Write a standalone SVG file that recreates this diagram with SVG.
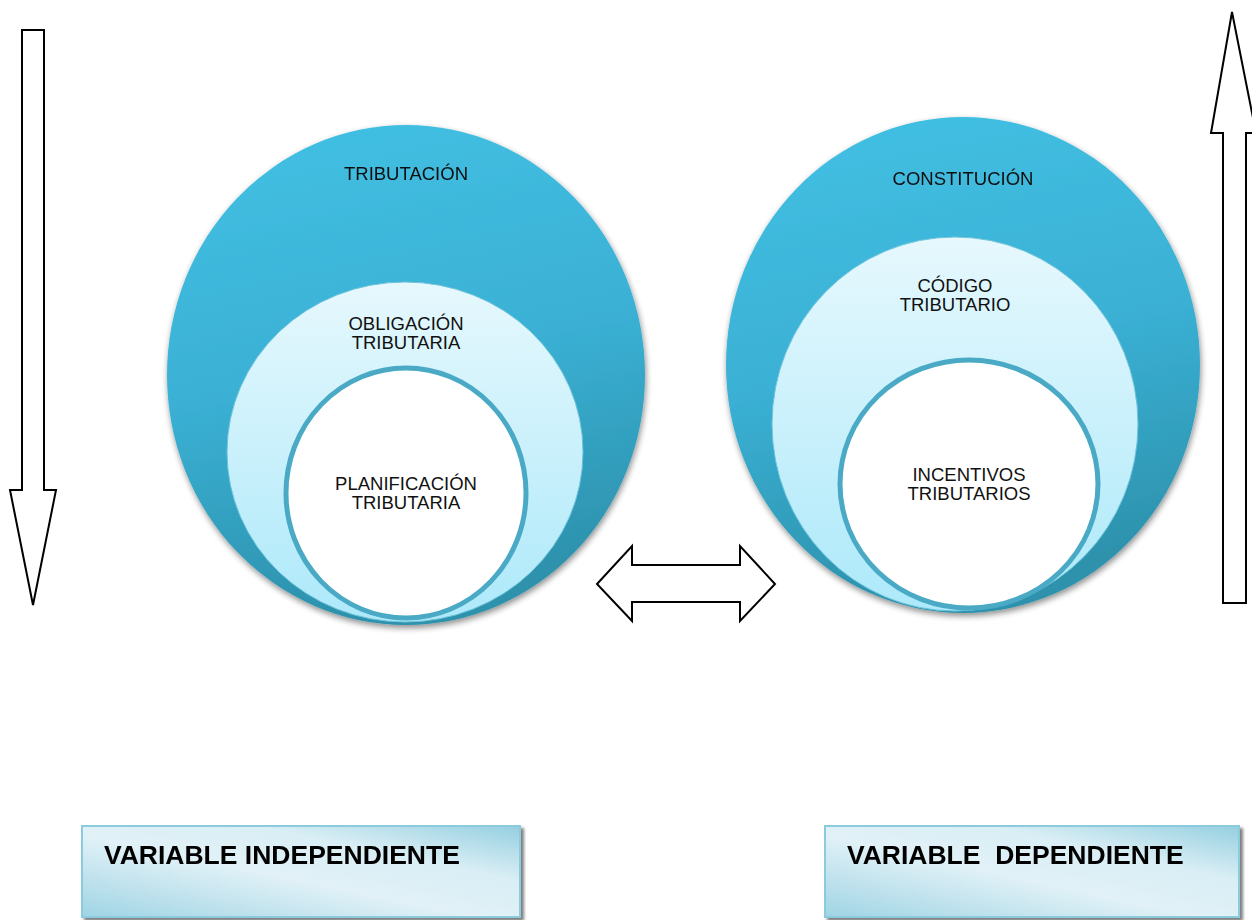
<svg xmlns="http://www.w3.org/2000/svg" width="1252" height="920" viewBox="0 0 1252 920">
  <defs>
    <linearGradient id="gOuter" x1="0" y1="0" x2="0.2" y2="1">
      <stop offset="0" stop-color="#42c1e4"/>
      <stop offset="0.55" stop-color="#3ab0d4"/>
      <stop offset="1" stop-color="#2d92ad"/>
    </linearGradient>
    <linearGradient id="gMiddle" x1="0" y1="0" x2="0" y2="1">
      <stop offset="0" stop-color="#e6f8fd"/>
      <stop offset="1" stop-color="#ade9fa"/>
    </linearGradient>
    <linearGradient id="gBox" x1="0" y1="1" x2="1" y2="0">
      <stop offset="0" stop-color="#9fd4e4"/>
      <stop offset="0.45" stop-color="#e1f1f7"/>
      <stop offset="0.7" stop-color="#d9eef5"/>
      <stop offset="1" stop-color="#95cfe0"/>
    </linearGradient>
    <filter id="fShadow" x="-10%" y="-10%" width="120%" height="125%">
      <feGaussianBlur in="SourceAlpha" stdDeviation="3"/>
      <feOffset dx="1" dy="3" result="b"/>
      <feComponentTransfer><feFuncA type="linear" slope="0.45"/></feComponentTransfer>
      <feMerge><feMergeNode/><feMergeNode in="SourceGraphic"/></feMerge>
    </filter>
    <filter id="fBoxShadow" x="-5%" y="-10%" width="110%" height="125%">
      <feGaussianBlur in="SourceAlpha" stdDeviation="1.5"/>
      <feOffset dx="3" dy="3"/>
      <feComponentTransfer><feFuncA type="linear" slope="0.5"/></feComponentTransfer>
      <feMerge><feMergeNode/><feMergeNode in="SourceGraphic"/></feMerge>
    </filter>
  </defs>
  <style>
    .outer { fill: url(#gOuter); }
    .middle { fill: url(#gMiddle); stroke: #6ec3da; stroke-width: 1; }
    .inner { fill: #ffffff; stroke: #4aaac5; stroke-width: 5; }
    .lbl { font-family: "Liberation Sans", Arial, sans-serif; font-size: 18.5px; fill: #111111; text-anchor: middle; }
    .box { fill: url(#gBox); stroke: #8ccbdd; stroke-width: 2; }
    .boxlbl { font-family: "Liberation Sans", Arial, sans-serif; font-size: 26.5px; font-weight: bold; fill: #000000; white-space: pre; }
    .arrow { fill: #ffffff; stroke: #000000; stroke-width: 2; stroke-linejoin: miter; }
  </style>

  <rect width="1252" height="920" fill="#ffffff"/>

  <!-- left nested circles -->
  <g id="tributacion" filter="url(#fShadow)">
    <ellipse class="outer" cx="406" cy="375" rx="239" ry="250"/>
    <text class="lbl" x="406" y="180">TRIBUTACIÓN</text>
  </g>
  <g id="obligacion-tributaria">
    <ellipse class="middle" cx="405" cy="452" rx="178" ry="170"/>
    <text class="lbl" x="406" y="330">OBLIGACIÓN</text>
    <text class="lbl" x="406" y="349">TRIBUTARIA</text>
  </g>
  <g id="planificacion-tributaria">
    <ellipse class="inner" cx="406" cy="493" rx="120" ry="125"/>
    <text class="lbl" x="406" y="490">PLANIFICACIÓN</text>
    <text class="lbl" x="406" y="509">TRIBUTARIA</text>
  </g>

  <!-- right nested circles -->
  <g id="constitucion" filter="url(#fShadow)">
    <ellipse class="outer" cx="963" cy="365" rx="237" ry="248"/>
    <text class="lbl" x="963" y="185">CONSTITUCIÓN</text>
  </g>
  <g id="codigo-tributario">
    <ellipse class="middle" cx="955" cy="424" rx="183" ry="187"/>
    <text class="lbl" x="955" y="292">CÓDIGO</text>
    <text class="lbl" x="955" y="311">TRIBUTARIO</text>
  </g>
  <g id="incentivos-tributarios">
    <ellipse class="inner" cx="969" cy="484" rx="129" ry="124"/>
    <text class="lbl" x="969" y="481">INCENTIVOS</text>
    <text class="lbl" x="969" y="500">TRIBUTARIOS</text>
  </g>

  <!-- block arrows -->
  <g id="connectors">
    <path class="arrow" d="M22,30 H44 V490 H56 L33,605 L10,490 H22 Z"/>
    <path class="arrow" d="M1223,603 H1246 V133 H1256 L1232,12 L1211,133 H1223 Z"/>
    <path class="arrow" d="M597,584 L632,546 V565 H740 V546 L775,584 L740,621 V602 H632 V621 Z"/>
  </g>

  <!-- variable labels -->
  <g id="variable-independiente" filter="url(#fBoxShadow)">
    <rect class="box" x="82" y="826" width="438" height="91"/>
    <text class="boxlbl" x="104" y="864">VARIABLE INDEPENDIENTE</text>
  </g>
  <g id="variable-dependiente" filter="url(#fBoxShadow)">
    <rect class="box" x="825" y="826" width="414" height="91"/>
    <text class="boxlbl" x="847" y="864">VARIABLE  DEPENDIENTE</text>
  </g>
</svg>
